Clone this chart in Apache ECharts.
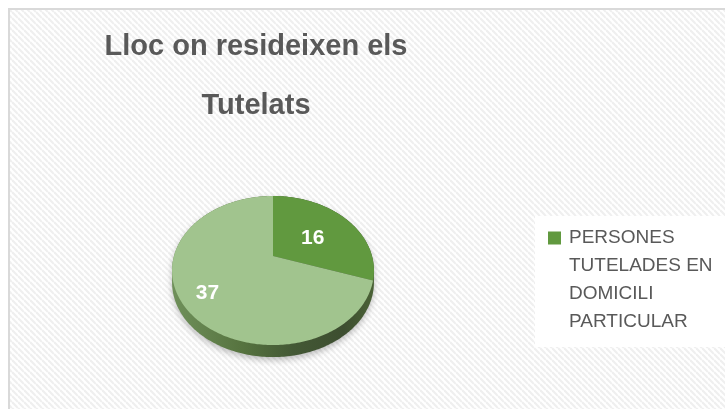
<!DOCTYPE html>
<html>
<head>
<meta charset="utf-8">
<script src="https://cdn.jsdelivr.net/npm/echarts@6/dist/echarts.min.js"></script>
<style>
  html, body { margin: 0; padding: 0; background: #fff; }
  #chart { width: 725px; height: 409px; }
</style>
</head>
<body>
<div id="chart"></div>
<script>
// dades del gràfic
const titleText = 'Lloc on resideixen els\nTutelats';
const legendLines = ['PERSONES', 'TUTELADES EN', 'DOMICILI', 'PARTICULAR'];
const categories = [legendLines.join(' '), ''];
const values = [16, 37];
const colors = ['#61993f', '#a1c48e'];

// pastís 3D amb perspectiva (centre, radi, aplanament, profunditat)
const pie = { cx: 273, cy: 256, r: 99, b: 71.7, k: 0.195, depth: 12 };
const labelOffset = [-9, 8];

function project(theta, f) {
  const u = Math.sin(theta) * f;
  const v = Math.cos(theta) * f;
  const d = 1 + pie.k * v;
  return [pie.cx + pie.r * u / d, pie.cy - pie.b * v / d];
}

// fons ratllat
function makeHatch() {
  const s = 6;
  const c = document.createElement('canvas');
  c.width = s; c.height = s;
  const ctx = c.getContext('2d');
  ctx.fillStyle = '#ffffff';
  ctx.fillRect(0, 0, s, s);
  ctx.strokeStyle = '#efefef';
  ctx.lineWidth = 2.2;
  [-s, 0, s].forEach(off => {
    ctx.beginPath();
    ctx.moveTo(0, off);
    ctx.lineTo(s, s + off);
    ctx.stroke();
  });
  return c;
}

const total = values.reduce((a, b) => a + b, 0);

function renderItem(params, api) {
  const i = params.dataIndex;
  let start = 0;
  for (let j = 0; j < i; j++) start += values[j];
  const val = api.value(0);
  const a0 = start / total * Math.PI * 2;
  const a1 = (start + val) / total * Math.PI * 2;
  const children = [];

  if (i === 0) {
    // lateral del pastís
    const side = [];
    const n = 360;
    for (let s = 0; s <= n; s++) {
      const t = s / n * Math.PI * 2;
      const p = project(t, 1);
      if (Math.cos(t) < -pie.k) p[1] += pie.depth;
      side.push(p);
    }
    children.push({
      type: 'polygon',
      shape: { points: side },
      z2: 0,
      style: {
        fill: {
          type: 'linear', x: 0, y: 0, x2: 1, y2: 0,
          colorStops: [
            { offset: 0, color: '#6f905a' },
            { offset: 0.35, color: '#56733f' },
            { offset: 0.6, color: '#435835' },
            { offset: 0.85, color: '#3d4e30' },
            { offset: 1, color: '#4a6236' }
          ]
        },
        shadowBlur: 6,
        shadowOffsetY: 3,
        shadowColor: 'rgba(0,0,0,0.25)'
      }
    });
  }

  const pts = [[pie.cx, pie.cy]];
  const steps = Math.max(2, Math.ceil((a1 - a0) / (Math.PI / 180)));
  for (let s = 0; s <= steps; s++) {
    pts.push(project(a0 + (a1 - a0) * s / steps, 1));
  }
  children.push({
    type: 'polygon',
    shape: { points: pts },
    z2: 2,
    style: { fill: colors[i] }
  });

  const pos = project((a0 + a1) / 2, 0.65);
  children.push({
    type: 'text',
    x: pos[0] + labelOffset[0],
    y: pos[1] + labelOffset[1],
    z2: 3,
    style: {
      text: String(val),
      fill: '#ffffff',
      font: 'bold 21px "Liberation Sans"',
      align: 'center',
      verticalAlign: 'middle'
    }
  });

  return { type: 'group', children: children };
}

var dom = document.getElementById('chart');
var myChart = echarts.init(dom, null, { renderer: 'canvas' });

var option = {
  animation: false,
  title: {
    text: titleText,
    left: 256,
    top: 17,
    padding: 0,
    textAlign: 'center',
    textStyle: {
      fontFamily: '"Liberation Sans", sans-serif',
      fontWeight: 'bold',
      fontSize: 29,
      lineHeight: 59,
      color: '#595959'
    }
  },
  graphic: [
    {
      type: 'rect',
      shape: { x: 9, y: 9, width: 760, height: 440 },
      style: { fill: { image: makeHatch(), repeat: 'repeat' }, stroke: '#d9d9d9', lineWidth: 2 }
    },
    {
      type: 'rect',
      shape: { x: 535, y: 216, width: 200, height: 131 },
      style: { fill: '#ffffff' }
    }
  ],
  legend: {
    data: [{ name: categories[0], itemStyle: { color: colors[0] } }],
    left: 548,
    top: 140,
    padding: 0,
    icon: 'rect',
    itemWidth: 13,
    itemHeight: 13,
    selectedMode: false,
    // línies buides al davant perquè la primera línia quedi al costat del quadrat
    formatter: function () { return '\n\n\n' + legendLines.join('\n'); },
    textStyle: {
      color: '#595959',
      fontSize: 19,
      fontFamily: '"Liberation Sans"',
      lineHeight: 28,
      padding: [0, 0, 0, 3]
    }
  },
  series: [
    {
      type: 'custom',
      name: categories[0],
      coordinateSystem: 'none',
      silent: true,
      itemStyle: { color: colors[0] },
      renderItem: renderItem,
      data: values
    }
  ]
};

myChart.setOption(option);
window.addEventListener('resize', myChart.resize);
</script>
</body>
</html>
